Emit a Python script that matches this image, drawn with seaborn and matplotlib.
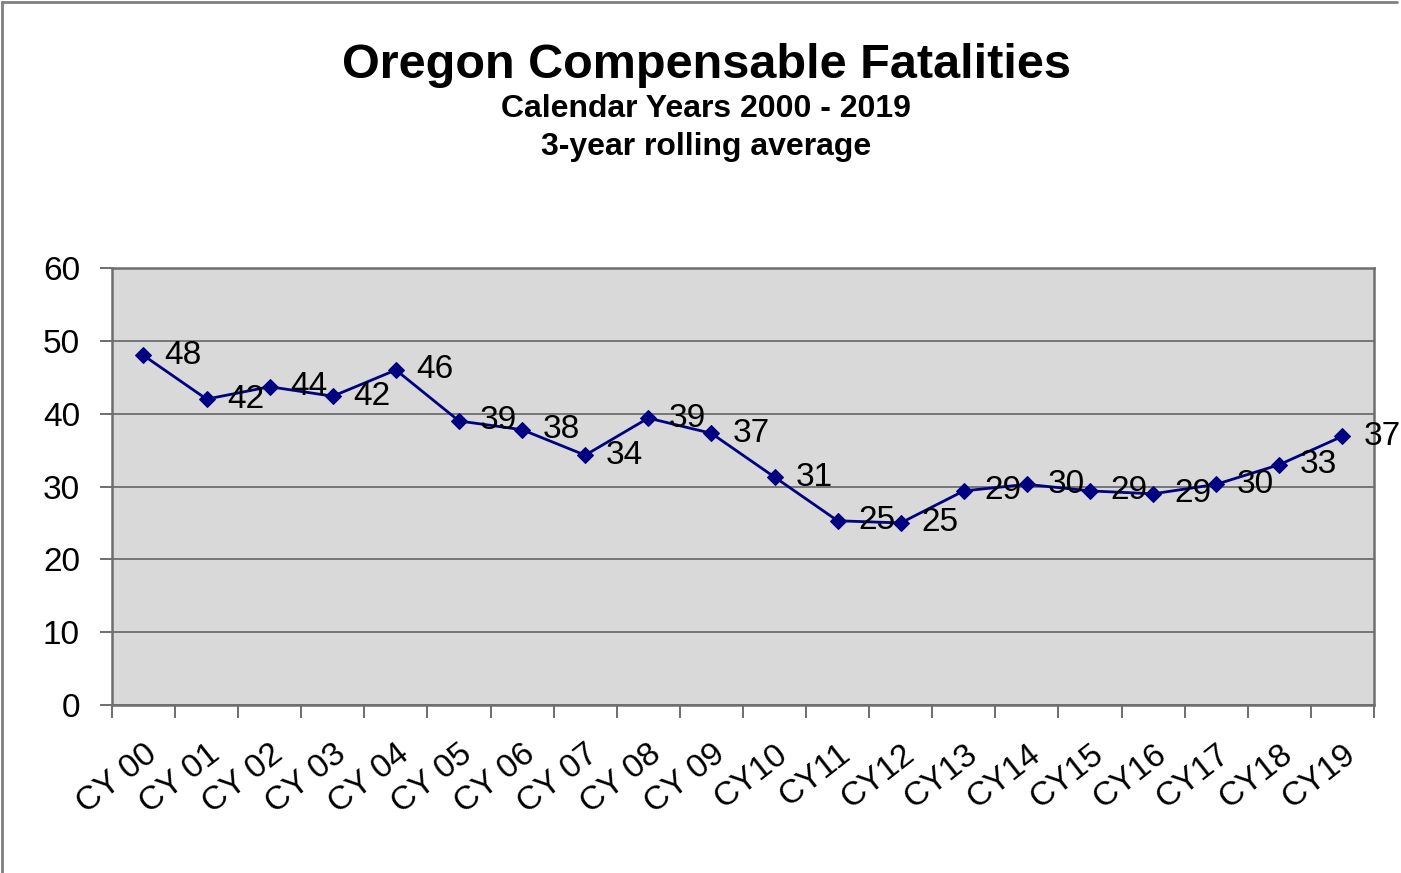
"""
Oregon compensable fatalities, 3-year rolling average
"""

import numpy as np
import pandas as pd
import matplotlib.pyplot as plt
from matplotlib.lines import Line2D
import seaborn as sns

years = ["CY 00", "CY 01", "CY 02", "CY 03", "CY 04", "CY 05", "CY 06", "CY 07",
         "CY 08", "CY 09", "CY10", "CY11", "CY12", "CY13", "CY14", "CY15",
         "CY16", "CY17", "CY18", "CY19"]
fatalities = [48.0, 42.0, 43.7, 42.4, 46.0, 39.0, 37.8, 34.3, 39.4, 37.3,
              31.3, 25.3, 25.0, 29.4, 30.3, 29.4, 29.0, 30.3, 33.0, 36.9]
point_labels = ["48", "42", "44", "42", "46", "39", "38", "34", "39", "37",
                "31", "25", "25", "29", "30", "29", "29", "30", "33", "37"]

df = pd.DataFrame({"Year": years, "Fatalities": fatalities})

sns.set_style("white")
plt.rcParams["font.family"] = ["Liberation Sans", "DejaVu Sans"]
plt.rcParams["text.color"] = "black"
plt.rcParams["xtick.color"] = "black"
plt.rcParams["ytick.color"] = "black"

fig = plt.figure(figsize=(14.01, 8.73), dpi=100)
ax = fig.add_axes([0.0799, 0.1924, 0.9008, 0.5006])
ax.set_facecolor("#D9D9D9")

sns.lineplot(data=df, x="Year", y="Fatalities", ax=ax, color="#000080",
             linewidth=2, marker="D", markersize=8, markeredgecolor="#000080")

# data labels to the right of each point
for i, (v, lab) in enumerate(zip(fatalities, point_labels)):
    ax.annotate(lab, (i, v), xytext=(15, 0), textcoords="offset points",
                ha="left", va="center", fontsize=24, color="black")

ax.set_ylim(0, 60)
ax.set_yticks(range(0, 61, 10))
ax.set_xlim(-0.5, len(years) - 0.5)
ax.set_xticks(range(len(years)))
ax.set_xticklabels(years, rotation=38, ha="right", rotation_mode="anchor")
ax.set_xticks(np.arange(-0.5, len(years), 1), minor=True)
ax.tick_params(axis="x", which="major", length=0, pad=24, labelsize=24)
ax.tick_params(axis="x", which="minor", length=9, width=1.2, color="#555555",
               direction="out", bottom=True)
ax.tick_params(axis="y", length=9, width=1.2, color="#555555", direction="out",
               left=True, labelsize=24, pad=14, labelcolor="black")
ax.tick_params(axis="x", labelcolor="black")
ax.yaxis.grid(True, color="#6E6E6E", linewidth=1.3)
ax.set_axisbelow(True)
ax.set_xlabel("")
ax.set_ylabel("")
for side in ["left", "bottom", "right", "top"]:
    ax.spines[side].set_visible(True)
    ax.spines[side].set_color("#6E6E6E")
    ax.spines[side].set_linewidth(1.8)

fig.text(0.504, 0.925, "Oregon Compensable Fatalities", ha="center", va="center",
         fontsize=35, fontweight="bold")
fig.text(0.504, 0.875, "Calendar Years 2000 - 2019", ha="center", va="center",
         fontsize=23, fontweight="bold")
fig.text(0.504, 0.832, "3-year rolling average", ha="center", va="center",
         fontsize=23, fontweight="bold")

# chart frame
fig.add_artist(Line2D([0.0015, 0.0015], [0, 0.998], color="#808080", linewidth=2,
                      transform=fig.transFigure))
fig.add_artist(Line2D([0.0015, 0.997], [0.998, 0.998], color="#808080", linewidth=2,
                      transform=fig.transFigure))

plt.savefig("out.png", dpi=100)
